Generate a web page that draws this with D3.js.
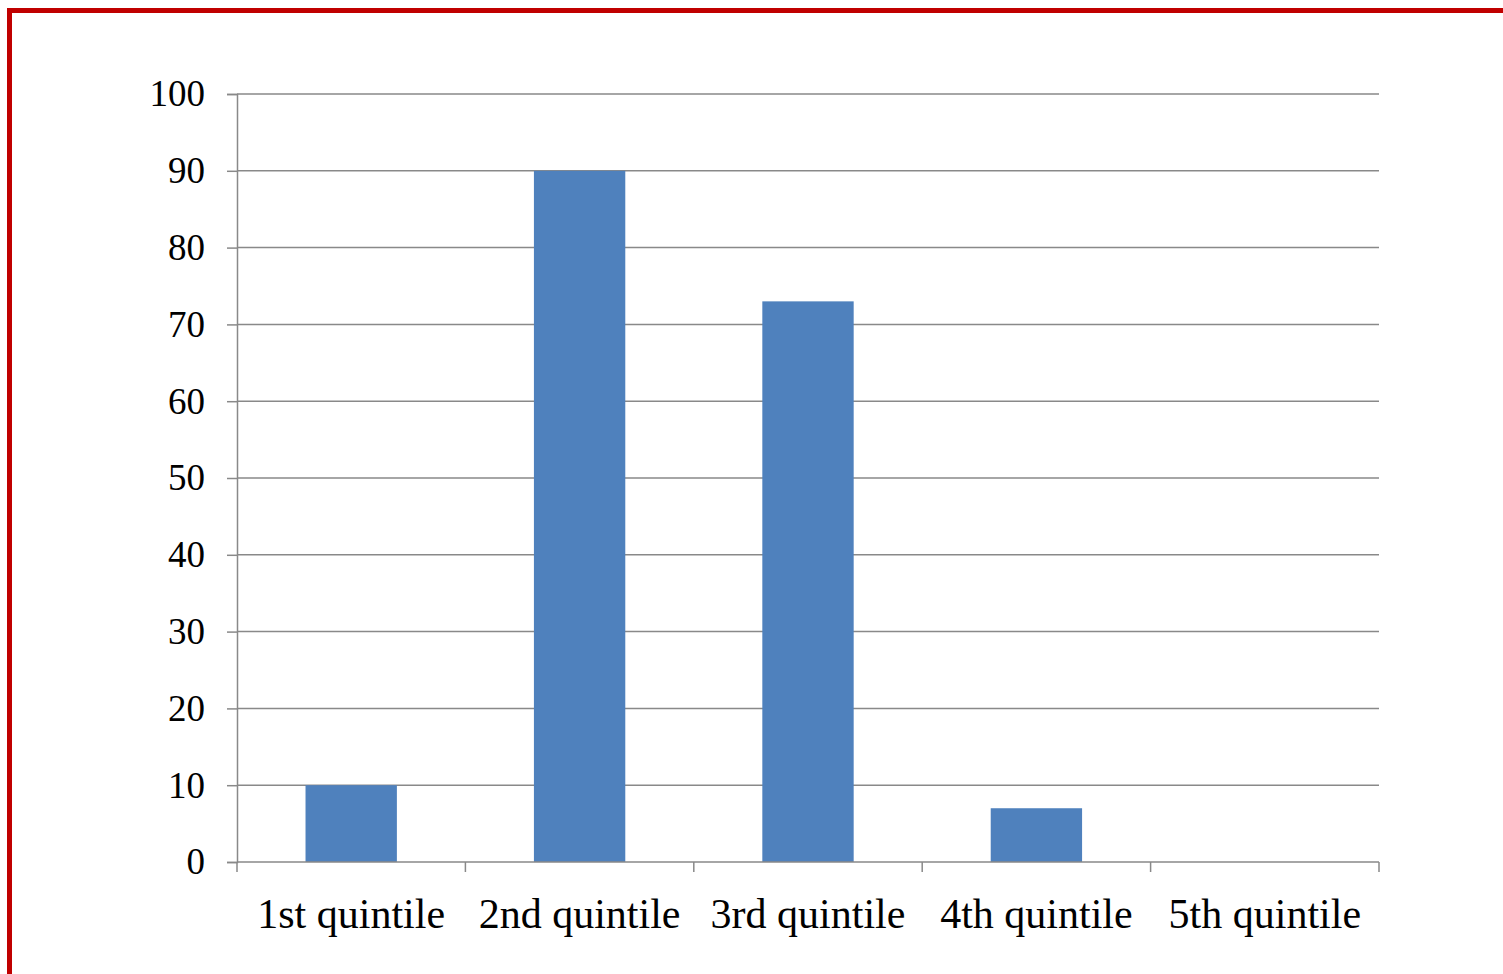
<!DOCTYPE html>
<html>
<head>
<meta charset="utf-8">
<script src="https://cdn.jsdelivr.net/npm/d3@7"></script>
<style>
  html, body { margin: 0; padding: 0; background: #fff; }
  svg { display: block; }
</style>
</head>
<body>
<svg id="chart" width="1503" height="974"></svg>
<script>
// Share by income quintile
const categories = ["1st quintile", "2nd quintile", "3rd quintile", "4th quintile", "5th quintile"];
const values = [10, 90, 73, 7, 0];
const yTicks = [0, 10, 20, 30, 40, 50, 60, 70, 80, 90, 100];

const svg = d3.select("#chart");
const W = 1503, H = 974;
const plotLeft = 237, plotRight = 1379, plotTop = 94, plotBottom = 862;
const gridColor = "#898989";
const fontFamily = "'Liberation Serif', 'Times New Roman', serif";

// Frame lines (top and left edges)
svg.append("line").attr("x1", 7).attr("x2", W).attr("y1", 10.5).attr("y2", 10.5)
  .attr("stroke", "#c00000").attr("stroke-width", 5);
svg.append("line").attr("x1", 9.5).attr("x2", 9.5).attr("y1", 8).attr("y2", H)
  .attr("stroke", "#c00000").attr("stroke-width", 5);

const x = d3.scaleBand().domain(categories).range([plotLeft, plotRight]).paddingInner(0.6).paddingOuter(0.3);
const xOuter = d3.scaleBand().domain(categories).range([plotLeft, plotRight]);
const y = d3.scaleLinear().domain([0, 100]).range([plotBottom, plotTop]);

// Horizontal gridlines
svg.append("g").selectAll("line").data(yTicks.filter(d => d > 0)).join("line")
  .attr("x1", plotLeft).attr("x2", plotRight)
  .attr("y1", d => y(d)).attr("y2", d => y(d))
  .attr("stroke", gridColor).attr("stroke-width", 1.5);

// Bars
svg.append("g").selectAll("rect").data(categories).join("rect")
  .attr("x", d => x(d))
  .attr("width", x.bandwidth())
  .attr("y", (d, i) => y(values[i]))
  .attr("height", (d, i) => y(0) - y(values[i]))
  .attr("fill", "#4f81bd");

// Y axis
const yAxis = svg.append("g").attr("transform", `translate(${plotLeft},0)`)
  .call(d3.axisLeft(y).tickValues(yTicks).tickSize(10).tickPadding(22).tickFormat(d3.format("d")));
yAxis.select(".domain").attr("stroke", gridColor).attr("stroke-width", 1.5);
yAxis.selectAll(".tick line").attr("stroke", gridColor).attr("stroke-width", 1.5);
yAxis.selectAll("text").attr("font-family", fontFamily).attr("font-size", 37).attr("fill", "#000");

// X axis with tick marks at category boundaries
const xAxisG = svg.append("g").attr("transform", `translate(0,${plotBottom})`);
xAxisG.append("line").attr("x1", plotLeft).attr("x2", plotRight).attr("y1", 0).attr("y2", 0)
  .attr("stroke", gridColor).attr("stroke-width", 1.5);
const boundaries = categories.map(c => xOuter(c)).concat([plotRight]);
xAxisG.selectAll("line.tk").data(boundaries).join("line").attr("class", "tk")
  .attr("x1", d => d).attr("x2", d => d).attr("y1", 0).attr("y2", 10)
  .attr("stroke", gridColor).attr("stroke-width", 1.5);
xAxisG.selectAll("text").data(categories).join("text")
  .attr("x", d => xOuter(d) + xOuter.bandwidth() / 2)
  .attr("y", 66)
  .attr("text-anchor", "middle")
  .attr("font-family", fontFamily).attr("font-size", 42).attr("fill", "#000")
  .text(d => d);
</script>
</body>
</html>
